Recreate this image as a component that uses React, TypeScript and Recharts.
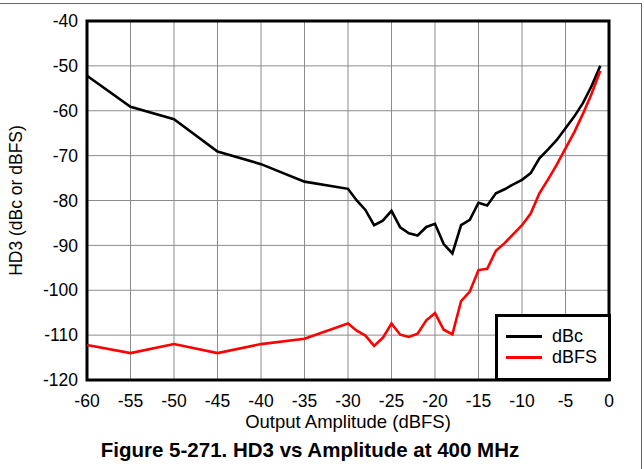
import React from "react";
import {
  LineChart,
  Line,
  XAxis,
  YAxis,
  CartesianGrid,
  ReferenceArea,
} from "recharts";

// Output amplitude (dBFS) and measured HD3 at 400 MHz
const amplitude = [
  -60, -55, -50, -45, -40, -35, -30, -29, -28, -27, -26, -25, -24, -23, -22,
  -21, -20, -19, -18, -17, -16, -15, -14, -13, -12, -11, -10, -9, -8, -7, -6,
  -5, -4, -3, -2, -1,
];
const hd3Dbc = [
  -52.2, -59.1, -61.9, -69.1, -71.9, -75.8, -77.4, -80, -82.1, -85.5, -84.5,
  -82.3, -86, -87.3, -87.8, -85.9, -85.2, -89.7, -91.8, -85.5, -84.3, -80.5,
  -81.1, -78.4, -77.5, -76.4, -75.4, -73.9, -70.6, -68.6, -66.5, -63.9, -61.3,
  -58.3, -54.5, -50,
];
const hd3Dbfs = [
  -112.2, -114, -112, -114, -112, -110.8, -107.4, -109, -110.1, -112.4, -110.6,
  -107.4, -109.9, -110.4, -109.7, -106.7, -105.1, -108.8, -109.8, -102.4,
  -100.3, -95.5, -95.2, -91.2, -89.5, -87.5, -85.5, -82.9, -78.4, -75.3, -72,
  -68.4, -64.8, -60.7, -56.2, -51.1,
];
const xTicks = [-60, -55, -50, -45, -40, -35, -30, -25, -20, -15, -10, -5, 0];
const yTicks = [-120, -110, -100, -90, -80, -70, -60, -50, -40];

const series = [
  { key: "dBc", color: "#000" },
  { key: "dBFS", color: "#ff0000" },
];

const chartData = amplitude.map((a, i) => ({
  amp: a,
  dBc: hd3Dbc[i],
  dBFS: hd3Dbfs[i],
}));

const FONT = '"Liberation Sans", Arial, sans-serif';

function LegendBox() {
  return (
    <div
      style={{
        position: "absolute",
        left: 495,
        top: 314,
        boxSizing: "border-box",
        width: 116,
        height: 67,
        border: "3px solid #000",
        background: "#fff",
        paddingTop: 9,
        fontFamily: FONT,
        fontSize: 18,
        color: "#000",
      }}
    >
      {series.map((s) => (
        <div
          key={s.key}
          style={{ display: "flex", alignItems: "center", height: 21 }}
        >
          <div
            style={{
              marginLeft: 8,
              width: 36,
              height: 3,
              background: s.color,
            }}
          />
          <span style={{ marginLeft: 10, lineHeight: "21px" }}>{s.key}</span>
        </div>
      ))}
    </div>
  );
}

export default function App() {
  return (
    <div
      style={{
        position: "absolute",
        left: 0,
        top: 0,
        width: 644,
        height: 469,
        background: "#fff",
        overflow: "hidden",
      }}
    >
      <LineChart
        width={644}
        height={469}
        data={chartData}
        margin={{ top: 21, right: 35, left: 0, bottom: 39 }}
        style={{ fontFamily: FONT }}
      >
        <CartesianGrid stroke="#8c8c8c" strokeWidth={1} />
        <XAxis
          dataKey="amp"
          type="number"
          domain={[-60, 0]}
          ticks={xTicks}
          height={50}
          tickLine={false}
          axisLine={false}
          tickMargin={9}
          tick={{ fill: "#000", fontSize: 17.5 }}
          label={{
            value: "Output Amplitude (dBFS)",
            position: "insideBottom",
            offset: 2,
            style: { fill: "#000", fontSize: 18.5, fontFamily: FONT },
          }}
        />
        <YAxis
          type="number"
          domain={[-120, -40]}
          ticks={yTicks}
          width={87}
          tickLine={false}
          axisLine={false}
          tickMargin={3}
          tick={{ fill: "#000", fontSize: 17.5 }}
          label={{
            value: "HD3 (dBc or dBFS)",
            angle: -90,
            position: "insideLeft",
            offset: 16,
            style: {
              fill: "#000",
              fontSize: 17.5,
              fontFamily: FONT,
              textAnchor: "middle",
            },
          }}
        />
        {series.map((s) => (
          <Line
            key={s.key}
            type="linear"
            dataKey={s.key}
            stroke={s.color}
            strokeWidth={2.6}
            dot={false}
            isAnimationActive={false}
          />
        ))}
        <ReferenceArea
          x1={-60}
          x2={0}
          y1={-120}
          y2={-40}
          fill="none"
          stroke="#000"
          strokeWidth={3}
          ifOverflow="visible"
        />
      </LineChart>
      <LegendBox />
      <div
        style={{
          position: "absolute",
          left: 0,
          top: 440,
          width: 620,
          textAlign: "center",
          fontFamily: FONT,
          fontWeight: "bold",
          fontSize: 20.5,
          lineHeight: "20px",
          color: "#000",
        }}
      >
        Figure 5-271. HD3 vs Amplitude at 400 MHz
      </div>
      <div
        style={{
          position: "absolute",
          left: 0,
          top: 3,
          width: 642,
          height: 0,
          borderTop: "1.5px solid #666",
        }}
      />
      <div
        style={{
          position: "absolute",
          left: 641,
          top: 3,
          width: 0,
          height: 466,
          borderLeft: "1.5px solid #666",
        }}
      />
    </div>
  );
}
